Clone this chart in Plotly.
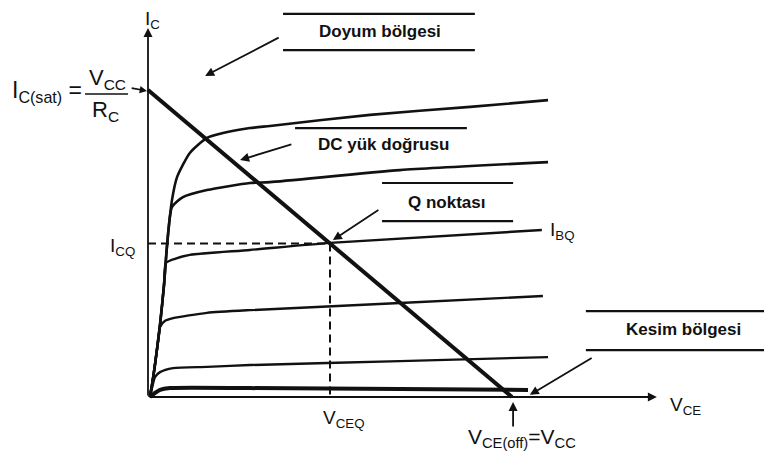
import plotly.graph_objects as go

# ---- data (V_CE in V, I_C in mA; V_CC = 10 V, I_C(sat) = 10 mA) ----
VCC = 10.0
IC_SAT = 10.0
VCEQ = 5.0
ICQ = 5.0

load_vce = [0.0, VCC]
load_ic = [IC_SAT, 0.0]

vce_1 = [0.05, 0.11, 0.19, 0.33, 0.44, 0.52, 0.66, 0.80, 1.15, 1.62, 2.06, 2.80, 3.35, 6.10, 8.85, 10.99]
ic_1 = [0.00, 0.39, 1.04, 2.35, 3.65, 4.89, 6.42, 7.17, 7.95, 8.44, 8.60, 8.76, 8.83, 9.19, 9.45, 9.67]

vce_2 = [0.05, 0.11, 0.19, 0.33, 0.44, 0.52, 0.66, 0.96, 1.62, 2.80, 3.35, 6.92, 10.99]
ic_2 = [0.00, 0.39, 1.04, 2.35, 3.65, 4.89, 6.19, 6.51, 6.74, 6.97, 7.00, 7.39, 7.65]

vce_3 = [0.05, 0.11, 0.19, 0.33, 0.44, 0.49, 0.74, 1.15, 2.80, 5.00, 10.82]
ic_3 = [0.00, 0.39, 1.04, 2.35, 3.65, 4.36, 4.50, 4.63, 4.79, 5.02, 5.44]

vce_4 = [0.05, 0.11, 0.19, 0.30, 0.33, 0.47, 0.69, 1.62, 2.80, 6.92, 10.85]
ic_4 = [0.00, 0.39, 1.04, 2.02, 2.28, 2.48, 2.57, 2.74, 2.83, 3.06, 3.29]

vce_5 = [0.05, 0.11, 0.19, 0.33, 0.69, 1.62, 2.80, 6.92, 10.99]
ic_5 = [0.00, 0.29, 0.65, 0.81, 0.94, 0.98, 1.04, 1.17, 1.30]

vce_6 = [0.05, 0.19, 0.33, 0.60, 2.80, 6.92, 10.44]
ic_6 = [0.00, 0.13, 0.23, 0.29, 0.29, 0.26, 0.23]

curves = [(vce_1, ic_1, 2.6), (vce_2, ic_2, 2.6), (vce_3, ic_3, 2.4),
          (vce_4, ic_4, 2.4), (vce_5, ic_5, 2.4), (vce_6, ic_6, 4.0)]

INK = "#111111"
FONT = "Liberation Sans, Arial, sans-serif"

fig = go.Figure()

for vx, iy, w in curves:
    fig.add_trace(go.Scatter(x=vx, y=iy, mode="lines",
                             line=dict(color=INK, width=w, shape="spline", smoothing=0.6),
                             hoverinfo="skip", showlegend=False))

# load line
fig.add_trace(go.Scatter(x=load_vce, y=load_ic, mode="lines",
                         line=dict(color=INK, width=4), hoverinfo="skip", showlegend=False))

# dashed Q projections
fig.add_trace(go.Scatter(x=[0, VCEQ, VCEQ], y=[ICQ, ICQ, 0], mode="lines",
                         line=dict(color=INK, width=2, dash="8px,5px"),
                         hoverinfo="skip", showlegend=False))

shapes = []
def hline(x0, x1, y, w=2.2):
    shapes.append(dict(type="line", xref="x", yref="y", x0=x0, x1=x1, y0=y, y1=y,
                       line=dict(color=INK, width=w)))

# label boxes
hline(3.71, 8.98, 12.48); hline(3.71, 8.98, 11.30)
hline(4.04, 8.76, 8.76)
hline(6.43, 10.03, 6.97); hline(6.43, 10.03, 5.73)
hline(12.03, 17.2, 2.80); hline(12.03, 17.2, 1.53)
# fraction bar
hline(-1.73, -0.55, 9.87, 1.6)

annotations = []
def arrow(x, y, ax, ay, w=1.8, size=1.0, head=2):
    annotations.append(dict(x=x, y=y, ax=ax, ay=ay, xref="x", yref="y", axref="x", ayref="y",
                            text="", showarrow=True, arrowhead=head, arrowsize=size,
                            arrowwidth=w, arrowcolor=INK, standoff=0, startstandoff=0))

def label(x, y, text, size, xanchor="center", bold=False):
    if bold:
        text = "<b>" + text + "</b>"
    annotations.append(dict(x=x, y=y, xref="x", yref="y", text=text, showarrow=False,
                            xanchor=xanchor, yanchor="middle",
                            font=dict(family=FONT, size=size, color=INK)))

# axes with arrows
arrow(0, 12.02, 0, 0, w=1.8, size=1.0)
arrow(13.98, 0, 0, 0, w=1.8, size=1.0)

# pointer arrows
arrow(1.57, 10.46, 3.63, 11.73)
arrow(2.53, 7.72, 3.98, 8.24)
arrow(5.08, 5.11, 6.37, 6.12)
arrow(10.49, 0.07, 12.23, 1.30)
arrow(10.03, -0.16, 10.03, -1.01)
arrow(-0.03, 9.97, -0.49, 10.07, w=1.6, size=0.9)

# texts
label(6.37, 11.89, "Doyum bölgesi", 17, bold=True)
label(6.46, 8.21, "DC yük doğrusu", 17, bold=True)
label(8.21, 6.35, "Q noktası", 17, bold=True)
label(14.70, 2.21, "Kesim bölgesi", 17, bold=True)

label(0.11, 12.28, "I<sub>C</sub>", 19)
label(-3.79, 9.95, "I<sub>C(sat)</sub> =", 23, xanchor="left")
label(-1.12, 10.35, "V<sub>CC</sub>", 22)
label(-1.18, 9.30, "R<sub>C</sub>", 22)
label(-0.69, 4.90, "I<sub>CQ</sub>", 19)
label(11.40, 5.40, "I<sub>BQ</sub>", 19)
label(5.38, -0.72, "V<sub>CEQ</sub>", 19)
label(14.78, -0.30, "V<sub>CE</sub>", 19)
label(10.27, -1.35, "V<sub>CE(off)</sub>=V<sub>CC</sub>", 21)

# the page places the figure 8 px from the window's top-left corner
fig.update_layout(
    width=764, height=449,
    margin=dict(l=0, r=0, t=0, b=0),
    paper_bgcolor="white", plot_bgcolor="white",
    xaxis=dict(visible=False, range=[-140/36.4, 624/36.4], fixedrange=True),
    yaxis=dict(visible=False, range=[-60/30.7, 389/30.7], fixedrange=True),
    shapes=shapes, annotations=annotations, showlegend=False,
)

fig.write_html("out.html")
